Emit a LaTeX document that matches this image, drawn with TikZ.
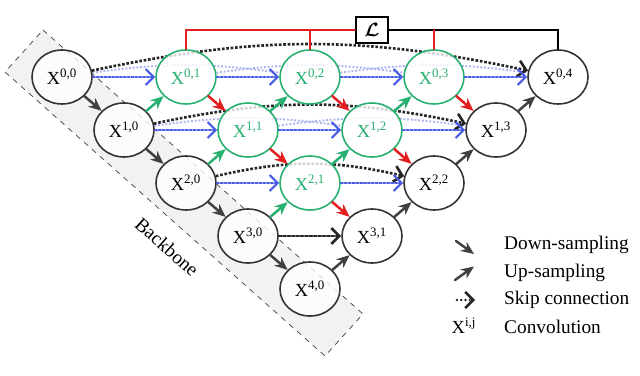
\documentclass[tikz,border=0pt]{standalone}
\usepackage{amsmath,amssymb}
\usepackage{fontspec}
\setmainfont{Liberation Serif}
\usepackage{tikz}
\usetikzlibrary{arrows.meta,shapes.geometric,backgrounds}
\usepackage{xcolor}
\definecolor{nodegreen}{RGB}{40,176,112}
\definecolor{lossred}{RGB}{228,30,30}
\definecolor{skipblue}{RGB}{72,92,228}

\begin{document}
\begin{tikzpicture}[>={Stealth[length=2.6mm,width=2.2mm]},font=\fontsize{10.5}{12}\selectfont,line cap=round,
  unode/.style={ellipse,draw=black!80,line width=0.9pt,minimum width=1.2cm,minimum height=1.08cm,inner sep=0pt,fill=white,fill opacity=0.8,text opacity=1},
  gnode/.style={unode,draw=nodegreen,text=nodegreen},
  dsamp/.style={->,black!75,line width=1.4pt},
  gsamp/.style={dsamp,nodegreen},
  rsamp/.style={dsamp,lossred},
  bskip/.style={-{Straight Barb[length=1.6mm]},skipblue,densely dotted,line width=1.2pt},
  kskip/.style={-{Straight Barb[length=1.6mm]},black!85,densely dotted,line width=1.5pt},
  fskip/.style={skipblue!45,densely dotted,line width=1.1pt},
  legtext/.style={anchor=west,font=\fontsize{11}{13}\selectfont}]
\useasboundingbox (0,0) rectangle (12.8,7.5);
% encoder column
\node[unode] (X00) at (1.24,5.96) {X\textsuperscript{0,0}};
\node[unode] (X10) at (2.48,4.90) {X\textsuperscript{1,0}};
\node[unode] (X20) at (3.72,3.84) {X\textsuperscript{2,0}};
\node[unode] (X30) at (4.96,2.78) {X\textsuperscript{3,0}};
\node[unode] (X40) at (6.20,1.72) {X\textsuperscript{4,0}};
% nested nodes
\node[gnode] (X01) at (3.72,5.96) {X\textsuperscript{0,1}};
\node[gnode] (X11) at (4.96,4.90) {X\textsuperscript{1,1}};
\node[gnode] (X21) at (6.20,3.84) {X\textsuperscript{2,1}};
\node[gnode] (X02) at (6.20,5.96) {X\textsuperscript{0,2}};
\node[gnode] (X12) at (7.44,4.90) {X\textsuperscript{1,2}};
\node[gnode] (X03) at (8.68,5.96) {X\textsuperscript{0,3}};
% decoder
\node[unode] (X31) at (7.44,2.78) {X\textsuperscript{3,1}};
\node[unode] (X22) at (8.68,3.84) {X\textsuperscript{2,2}};
\node[unode] (X13) at (9.92,4.90) {X\textsuperscript{1,3}};
\node[unode] (X04) at (11.16,5.96) {X\textsuperscript{0,4}};
% loss
\node[draw,line width=1.2pt,minimum width=0.64cm,minimum height=0.52cm,inner sep=0pt] (loss) at (7.44,6.90) {$\boldsymbol{\mathcal{L}}$};
\draw[lossred,line width=1pt] (loss.west) -| (X01.north);
\draw[lossred,line width=1pt] (X02.north |- loss.west) -- (X02.north);
\draw[black,line width=1pt] (loss.east) -| (X04.north);
\draw[lossred,line width=1pt] (X03.north |- loss.east) -- (X03.north);
\begin{scope}[on background layer]
\draw[dashed,gray!50!black,fill=gray!10] (0.86,6.90) -- (7.26,1.22) -- (6.50,0.38) -- (0.10,6.06) -- cycle;
\draw[fskip] (X00) to[bend left=8] (X02);
\draw[fskip] (X01) to[bend left=8] (X03);
\draw[fskip] (X02) to[bend left=8] (X04);
\draw[fskip] (X10) to[bend left=8] (X12);
\draw[fskip] (X11) to[bend left=8] (X13);
\draw[kskip] (X00) to[bend left=12] (X04);
\draw[kskip] (X10) to[bend left=12] (X13);
\draw[kskip] (X20) to[bend left=13] (X22);
\end{scope}
\node[rotate=-41.6,font=\fontsize{11}{13}\selectfont] (bbone) at (3.34,2.56) {Backbone};
% down-sampling
\draw[dsamp] (X00) -- (X10);
\draw[dsamp] (X10) -- (X20);
\draw[dsamp] (X20) -- (X30);
\draw[dsamp] (X30) -- (X40);
\draw[rsamp] (X01) -- (X11);
\draw[rsamp] (X11) -- (X21);
\draw[rsamp] (X21) -- (X31);
\draw[rsamp] (X02) -- (X12);
\draw[rsamp] (X12) -- (X22);
\draw[rsamp] (X03) -- (X13);
% up-sampling
\draw[gsamp] (X10) -- (X01);
\draw[gsamp] (X20) -- (X11);
\draw[gsamp] (X30) -- (X21);
\draw[gsamp] (X11) -- (X02);
\draw[gsamp] (X21) -- (X12);
\draw[gsamp] (X12) -- (X03);
\draw[dsamp] (X40) -- (X31);
\draw[dsamp] (X31) -- (X22);
\draw[dsamp] (X22) -- (X13);
\draw[dsamp] (X13) -- (X04);
% skips
\draw[bskip] (X00) -- (X01);
\draw[bskip] (X01) -- (X02);
\draw[bskip] (X02) -- (X03);
\draw[bskip] (X03) -- (X04);
\draw[bskip] (X10) -- (X11);
\draw[bskip] (X11) -- (X12);
\draw[bskip] (X12) -- (X13);
\draw[bskip] (X20) -- (X21);
\draw[bskip] (X21) -- (X22);
\draw[kskip] (X30) -- (X31);
% legend
\coordinate (dsA) at (9.12,2.68);
\coordinate (dsB) at (9.48,2.42);
\draw[dsamp] (dsA) -- (dsB);
\node[legtext] (dslab) at (9.96,2.60) {Down-sampling};
\coordinate (usA) at (9.10,1.90);
\coordinate (usB) at (9.48,2.17);
\draw[dsamp] (usA) -- (usB);
\node[legtext] (uslab) at (9.96,2.04) {Up-sampling};
\coordinate (skA) at (9.14,1.50);
\coordinate (skB) at (9.50,1.50);
\draw[kskip,dash pattern=on 0pt off 2.4pt] (skA) -- (skB);
\node[legtext] (sklab) at (9.96,1.50) {Skip connection};
\node (cvsym) at (9.28,0.98) {X\textsuperscript{i,j}};
\node[legtext] (cvlab) at (9.96,0.96) {Convolution};
\end{tikzpicture}
\end{document}
